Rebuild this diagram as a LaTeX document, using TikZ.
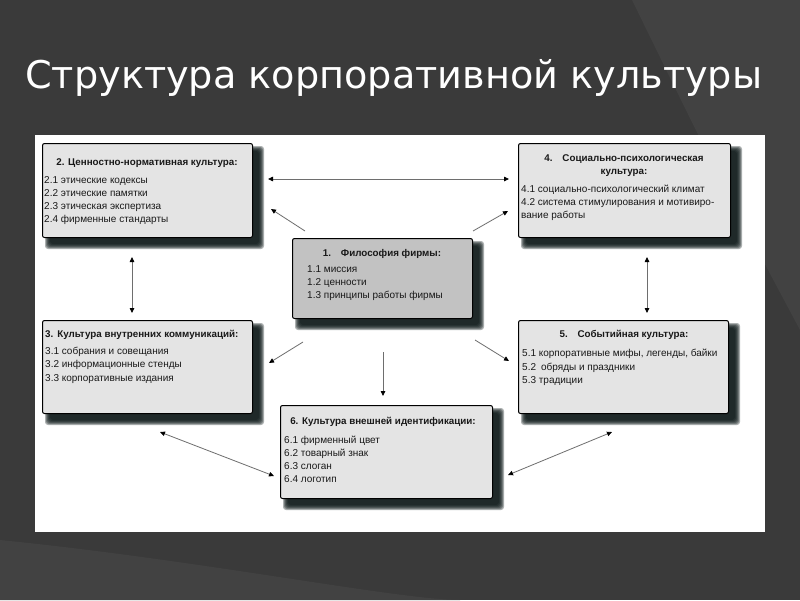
\documentclass[tikz,border=0pt]{standalone}
\usepackage{graphicx}
\usepackage{fontspec}
\setmainfont{Liberation Sans}
\newfontfamily\titlefont{DejaVu Sans}
\usetikzlibrary{arrows.meta}
\definecolor{bgc}{HTML}{3A3A3A}
\definecolor{bgl}{HTML}{424242}
\definecolor{boxc}{HTML}{E4E4E4}
\definecolor{boxd}{HTML}{C2C2C2}
\definecolor{shc}{HTML}{0C1818}
\definecolor{linec}{HTML}{6E6E6E}
\newcommand\boxshadow[4]{%
  \foreach \i in {0,1,...,5}{%
    \fill[shc, opacity=0.34, rounded corners=3pt] ({#1+8-\i},{#2+8-\i}) rectangle ({#3+7+\i},{#4+7+\i});
  }%
}
\tikzset{
  box/.style={draw=black, line width=1pt, rounded corners=2pt, anchor=north west, inner sep=0pt},
  ttl/.style={font=\fontsize{9.8}{11}\selectfont\bfseries, text=black!90, anchor=base, inner sep=0pt},
  itm/.style={font=\fontsize{10}{11}\selectfont, text=black!90, anchor=base west, inner sep=0pt},
  arr/.style={draw=linec, line width=0.8pt, -{Triangle[length=5pt,width=4.5pt,color=black]}},
  darr/.style={draw=linec, line width=0.8pt, {Triangle[length=5pt,width=4.5pt,color=black]}-{Triangle[length=5pt,width=4.5pt,color=black]}}
}
\begin{document}
\begin{tikzpicture}[x=1pt,y=-1pt]
\useasboundingbox (0,0) rectangle (800,600);
\fill[bgc] (0,0) rectangle (800,600);
\fill[bgl] (632,0) -- (800,0) -- (800,330) .. controls (720,180) .. (632,0);
\fill[bgl] (0,540) .. controls (200,560) and (400,600) .. (460,600) -- (0,600) -- cycle;

% title
\node[text=white, font=\titlefont\fontsize{36}{40}\selectfont, anchor=base west, inner sep=0pt] (title) at (25,88) {\resizebox{737pt}{!}{Структура корпоративной культуры}};

% panel
\fill[white] (35,135) rectangle (765,532);

% shadows
\boxshadow{42}{143}{252}{237}
\boxshadow{518}{143}{730}{237}
\boxshadow{292}{238}{472}{318}
\boxshadow{42}{320}{252}{413}
\boxshadow{518}{320}{728}{413}
\boxshadow{280}{405}{492}{498}

% boxes
\node[box, fill=boxc, minimum width=210pt, minimum height=94pt] (b2) at (42,143) {};
\node[box, fill=boxc, minimum width=212pt, minimum height=94pt] (b4) at (518,143) {};
\node[box, fill=boxd, minimum width=180pt, minimum height=80pt] (b1) at (292,238) {};
\node[box, fill=boxc, minimum width=210pt, minimum height=93pt] (b3) at (42,320) {};
\node[box, fill=boxc, minimum width=210pt, minimum height=93pt] (b5) at (518,320) {};
\node[box, fill=boxc, minimum width=212pt, minimum height=93pt] (b6) at (280,405) {};

% box 2
\node[ttl] (t2) at (147,165) {2. Ценностно-нормативная культура:};
\node[itm] (i21) at (44,183) {2.1 этические кодексы};
\node[itm] (i22) at (44,196) {2.2 этические памятки};
\node[itm] (i23) at (44,209) {2.3 этическая экспертиза};
\node[itm] (i24) at (44,222) {2.4 фирменные стандарты};

% box 4
\node[ttl] (t4a) at (624,161) {4.\hspace{1em}Социально-психологическая};
\node[ttl] (t4b) at (624,174) {культура:};
\node[itm] (i41) at (521,192) {4.1 социально-психологический климат};
\node[itm] (i42) at (521,205) {4.2 система стимулирования и мотивиро-};
\node[itm] (i43) at (521,218) {вание работы};

% box 1
\node[ttl] (t1) at (382,256) {1.\hspace{1em}Философия фирмы:};
\node[itm] (i11) at (307,272) {1.1 миссия};
\node[itm] (i12) at (307,285) {1.2 ценности};
\node[itm] (i13) at (307,298) {1.3 принципы работы фирмы};

% box 3
\node[ttl, anchor=base west] (t3) at (45,337) {3.\hspace{0.4em}Культура внутренних коммуникаций:};
\node[itm] (i31) at (45,354) {3.1 собрания и совещания};
\node[itm] (i32) at (45,367) {3.2 информационные стенды};
\node[itm] (i33) at (45,381) {3.3 корпоративные издания};

% box 5
\node[ttl] (t5) at (624,337) {5.\hspace{1em}Событийная культура:};
\node[itm] (i51) at (522,356) {5.1 корпоративные мифы, легенды, байки};
\node[itm] (i52) at (522,370) {5.2\hspace{0.5em}обряды и праздники};
\node[itm] (i53) at (522,383) {5.3 традиции};

% box 6
\node[ttl] (t6) at (383,424) {6. Культура внешней идентификации:};
\node[itm] (i61) at (284,443) {6.1 фирменный цвет};
\node[itm] (i62) at (284,456) {6.2 товарный знак};
\node[itm] (i63) at (284,469) {6.3 слоган};
\node[itm] (i64) at (284,482) {6.4 логотип};

% connector end points
\coordinate (a24s) at (268,179);
\coordinate (a24e) at (509,179);
\coordinate (a12s) at (305,231);
\coordinate (a12e) at (271,209);
\coordinate (a14s) at (473,231);
\coordinate (a14e) at (508,211);
\coordinate (a23s) at (132,257);
\coordinate (a23e) at (132,313);
\coordinate (a45s) at (647,257);
\coordinate (a45e) at (647,313);
\coordinate (a13s) at (303,342);
\coordinate (a13e) at (269,363);
\coordinate (a16s) at (383,352);
\coordinate (a16e) at (383,396);
\coordinate (a15s) at (475,340);
\coordinate (a15e) at (509,361);
\coordinate (a36s) at (160,432);
\coordinate (a36e) at (274,476);
\coordinate (a56s) at (508,475);
\coordinate (a56e) at (612,432);

\draw[darr] (a24s) -- (a24e);
\draw[arr] (a12s) -- (a12e);
\draw[arr] (a14s) -- (a14e);
\draw[darr] (a23s) -- (a23e);
\draw[darr] (a45s) -- (a45e);
\draw[arr] (a13s) -- (a13e);
\draw[arr] (a16s) -- (a16e);
\draw[arr] (a15s) -- (a15e);
\draw[darr] (a36s) -- (a36e);
\draw[darr] (a56s) -- (a56e);
\end{tikzpicture}
\end{document}
